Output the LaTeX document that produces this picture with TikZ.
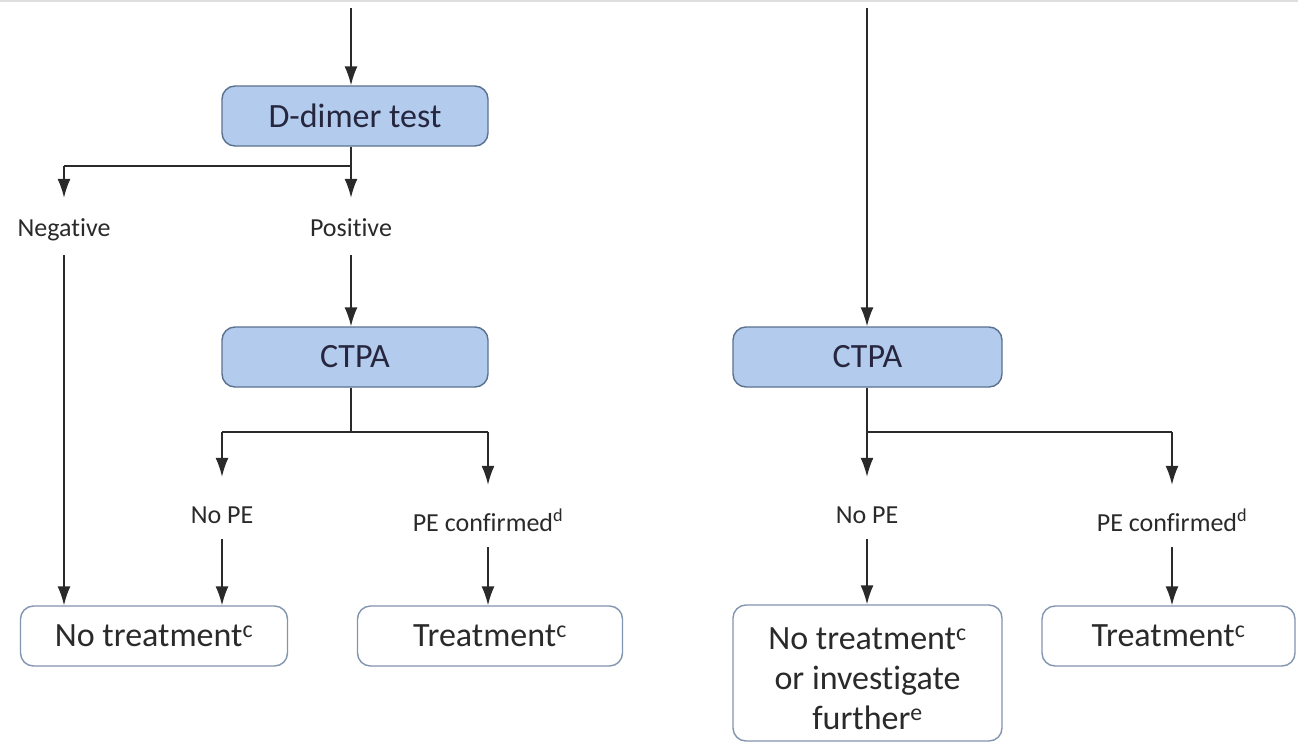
\documentclass[tikz,border=0pt]{standalone}
\usepackage{fontspec}
\setmainfont[Ligatures=NoCommon]{Carlito}
\usetikzlibrary{arrows.meta}

\definecolor{boxblue}{HTML}{B3CBEC}
\definecolor{boxedge}{HTML}{5B7190}
\definecolor{pageedge}{HTML}{8295AF}
\definecolor{ink}{HTML}{2A2A2A}

\tikzset{
  flow/.style={line width=1.6pt, draw=ink},
  arr/.style={flow, -{Latex[length=19pt,width=13pt]}},
  bluebox/.style={draw=boxedge, line width=1.4pt, fill=boxblue, rounded corners=13pt,
    minimum width=266pt, minimum height=60pt, inner sep=0pt,
    font=\fontsize{34}{40}\selectfont, text=ink!90!blue},
  whitebox/.style={draw=pageedge, line width=1.4pt, fill=white, rounded corners=13pt,
    minimum height=60pt, inner sep=0pt, align=center,
    font=\fontsize{34}{40}\selectfont, text=ink},
  lbl/.style={inner sep=0pt, text height=17pt, text depth=3pt,
    font=\fontsize{26}{30}\selectfont, text=ink}
}

\begin{document}
\begin{tikzpicture}[x=1pt, y=-1pt]
\useasboundingbox (0,0) rectangle (1298,742);
\fill[white] (0,0) rectangle (1298,742);
\draw[gray!25, line width=2pt] (0,1) -- (1298,1);

% ---- left branch ----
\coordinate (topL) at (351,8);
\node[bluebox] (dd) at (355,116) {D-dimer test};
\coordinate (jL) at (351,166);
\coordinate (jNeg) at (64,166);
\node[lbl] (neg) at (64,229) {Negative};
\node[lbl] (pos) at (351,229) {Positive};
\node[bluebox] (ctL) at (355,357) {CTPA};
\coordinate (kL) at (351,432);
\coordinate (kLa) at (222,432);
\coordinate (kLb) at (488,432);
\node[lbl] (nopeL) at (222,516) {No PE};
\node[lbl] (pecL) at (488,524) {PE confirmed\textsuperscript{d}};
\node[whitebox, minimum width=267pt] (ntL) at (154,636) {No treatment\textsuperscript{c}};
\node[whitebox, minimum width=265pt] (trL) at (490,636) {Treatment\textsuperscript{c}};

\draw[arr] (topL) -- (topL |- dd.north);
\draw[flow] (dd.south -| jL) -- (jL) -- (jNeg);
\draw[arr, shorten >=21pt] (jNeg) -- (neg.north);
\draw[arr, shorten >=21pt] (jL) -- (pos.north);
\draw[arr, shorten <=16pt] (neg.south) -- (neg.south |- ntL.north);
\draw[arr, shorten <=16pt] (pos.south) -- (pos.south |- ctL.north);
\draw[flow] (ctL.south -| kL) -- (kL);
\draw[flow] (kLa) -- (kLb);
\draw[arr, shorten >=29pt] (kLa) -- (nopeL.north);
\draw[arr, shorten >=29pt] (kLb) -- (pecL.north);
\draw[arr, shorten <=13pt] (nopeL.south) -- (nopeL.south |- ntL.north);
\draw[arr, shorten <=13pt] (pecL.south) -- (pecL.south |- trL.north);

% ---- right branch ----
\coordinate (topR) at (867,8);
\node[bluebox, minimum width=269pt] (ctR) at (867.5,357) {CTPA};
\coordinate (kR) at (867,432);
\coordinate (kRb) at (1172,432);
\node[lbl] (nopeR) at (867,516) {No PE};
\node[lbl] (pecR) at (1172,524) {PE confirmed\textsuperscript{d}};
\node[whitebox, minimum width=269pt, minimum height=136pt] (ntR) at (867.5,673)
  {\rule{0pt}{34pt}No treatment\textsuperscript{c}\\or investigate\\further\textsuperscript{e}};
\node[whitebox, minimum width=253pt] (trR) at (1168.5,636) {Treatment\textsuperscript{c}};

\draw[arr] (topR) -- (topR |- ctR.north);
\draw[flow] (ctR.south -| kR) -- (kR) -- (kRb);
\draw[arr, shorten >=29pt] (kR) -- (nopeR.north);
\draw[arr, shorten >=29pt] (kRb) -- (pecR.north);
\draw[arr, shorten <=13pt] (nopeR.south) -- (nopeR.south |- ntR.north);
\draw[arr, shorten <=13pt] (pecR.south) -- (pecR.south |- trR.north);
\end{tikzpicture}
\end{document}
